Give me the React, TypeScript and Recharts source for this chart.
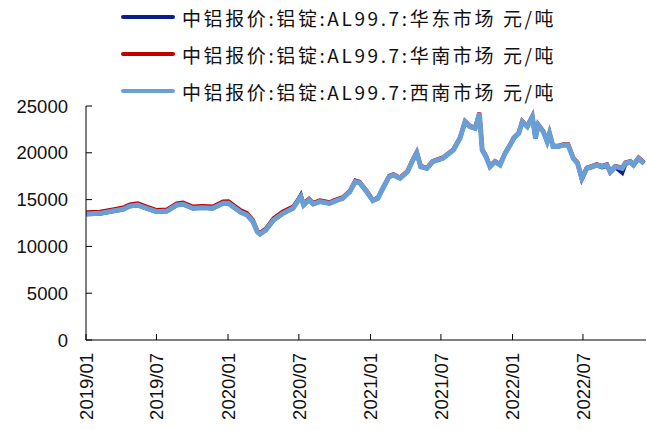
import { LineChart, Line, XAxis, YAxis } from "recharts";

const dates = [
  "2019/01/02", "2019/02/06", "2019/03/11", "2019/04/06", "2019/04/24", "2019/05/14", "2019/06/06", "2019/07/02",
  "2019/07/28", "2019/08/22", "2019/09/07", "2019/10/03", "2019/10/28", "2019/11/23", "2019/12/19",
  "2020/01/02", "2020/02/03", "2020/02/19", "2020/03/05", "2020/03/16", "2020/03/23", "2020/04/07", "2020/04/27",
  "2020/05/21", "2020/06/16", "2020/07/06", "2020/07/13", "2020/07/27", "2020/08/07", "2020/08/24", "2020/09/18",
  "2020/10/09", "2020/10/22", "2020/11/09", "2020/11/23", "2020/12/04", "2020/12/23",
  "2021/01/07", "2021/01/20", "2021/02/02", "2021/02/18", "2021/03/01", "2021/03/18", "2021/04/06", "2021/04/20",
  "2021/04/30", "2021/05/10", "2021/05/26", "2021/06/10", "2021/07/06", "2021/08/02", "2021/08/19", "2021/09/01",
  "2021/09/14", "2021/09/27", "2021/10/08", "2021/10/15", "2021/10/25", "2021/11/04", "2021/11/17", "2021/11/30",
  "2021/12/13", "2021/12/27",
  "2022/01/04", "2022/01/17", "2022/01/26", "2022/02/08", "2022/02/21", "2022/03/01", "2022/03/08", "2022/03/21",
  "2022/03/31", "2022/04/06", "2022/04/15", "2022/04/28", "2022/05/11", "2022/05/24", "2022/06/06", "2022/06/17",
  "2022/06/28", "2022/07/11", "2022/07/25", "2022/08/05", "2022/08/19", "2022/09/01", "2022/09/09", "2022/09/22",
  "2022/10/10", "2022/10/18", "2022/10/31", "2022/11/08", "2022/11/21", "2022/12/05",
];

// 华东市场
const eastPrices = [
  13440, 13500, 13760, 13940, 14290, 14400, 14040, 13690, 13760, 14400, 14480, 14040, 14120, 14050, 14580,
  14570, 13630, 13330, 12620, 11550, 11300, 11730, 12800, 13510, 14050, 15500, 14400, 14940, 14510, 14760, 14580,
  14940, 15120, 15830, 16900, 16780, 15780,
  14880, 15120, 16190, 17430, 17610, 17260, 17960, 19210, 19990, 18500, 18320, 19030, 19390, 20280, 21530, 23300,
  22770, 22590, 24200, 20280, 19560, 18500, 19030, 18680, 19920, 20880,
  21530, 22060, 23300, 22770, 23840, 21530, 22950, 22240, 21170, 22060, 20640, 20640, 20810, 20810, 19390, 18860,
  17150, 18300, 18480, 18650, 18450, 18600, 17880, 18450, 17850, 18800, 18980, 18650, 19350, 18850,
];

// 华南市场
const southPrices = [
  13650, 13700, 13950, 14150, 14480, 14600, 14250, 13880, 13950, 14600, 14680, 14250, 14320, 14250, 14800,
  14820, 13850, 13550, 12820, 11700, 11450, 11900, 13000, 13720, 14250, 15380, 14600, 15100, 14650, 14920, 14720,
  15080, 15250, 15950, 17050, 16900, 15900,
  14980, 15220, 16300, 17530, 17720, 17360, 18060, 19320, 20100, 18600, 18420, 19130, 19500, 20380, 21630, 23400,
  22870, 22700, 24300, 20380, 19660, 18600, 19130, 18790, 20020, 20980,
  21630, 22160, 23400, 22870, 23940, 21630, 23050, 22340, 21270, 22160, 20740, 20740, 20910, 20910, 19490, 18960,
  17360, 18420, 18600, 18780, 18600, 18780, 18060, 18600, 18420, 18960, 19130, 18780, 19490, 18960,
];

// 西南市场
const southwestPrices = [
  13460, 13530, 13780, 13960, 14310, 14420, 14070, 13710, 13780, 14420, 14500, 14070, 14140, 14070, 14600,
  14600, 13650, 13350, 12640, 11570, 11320, 11750, 12820, 13530, 14070, 15310, 14420, 14960, 14530, 14780, 14600,
  14960, 15140, 15850, 16920, 16800, 15800,
  14900, 15140, 16210, 17450, 17630, 17280, 17980, 19230, 20010, 18520, 18340, 19050, 19410, 20300, 21550, 23320,
  22790, 22610, 24220, 20300, 19580, 18520, 19050, 18700, 19940, 20900,
  21550, 22080, 23320, 22790, 23860, 21550, 22970, 22260, 21190, 22080, 20660, 20660, 20830, 20830, 19410, 18880,
  17280, 18340, 18520, 18700, 18520, 18700, 17980, 18520, 18340, 18880, 19050, 18700, 19410, 18880,
];

const xTickDates = ["2019/01/01", "2019/07/01", "2020/01/01", "2020/07/01", "2021/01/01", "2021/07/01", "2022/01/01", "2022/07/01"];
const yTicks = [0, 5000, 10000, 15000, 20000, 25000];
const axisEnd = "2022/12/10";

const seriesNames = [
  "中铝报价:铝锭:AL99.7:华东市场 元/吨",
  "中铝报价:铝锭:AL99.7:华南市场 元/吨",
  "中铝报价:铝锭:AL99.7:西南市场 元/吨",
];
const seriesColors = ["#0B1C8C", "#C00000", "#6A9FD6"];

const dayOf = (s: string) => {
  const [y, m, d] = s.split("/").map(Number);
  return (Date.UTC(y, m - 1, d) - Date.UTC(2019, 0, 1)) / 86400000;
};

const data = dates.map((d, i) => ({
  t: dayOf(d),
  east: eastPrices[i],
  south: southPrices[i],
  southwest: southwestPrices[i],
}));

const xTicks = xTickDates.map(dayOf);
const tickLabel = (v: number) => {
  const i = xTicks.indexOf(v);
  return i >= 0 ? xTickDates[i].slice(0, 7) : "";
};

const FONT = "'Liberation Sans', Arial, sans-serif";

function YTick(props: any) {
  const { x, y, payload } = props;
  return (
    <g>
      <line x1={x + 18} x2={x + 24} y1={y} y2={y} stroke="#000" strokeWidth={1} />
      <text x={x} y={y} dy="0.36em" textAnchor="end" fontSize={18.5} fontFamily={FONT} fill="#111">
        {payload.value}
      </text>
    </g>
  );
}

function XTick(props: any) {
  const { x, y, payload } = props;
  return (
    <g>
      <line x1={x} x2={x} y1={y - 13} y2={y - 19} stroke="#000" strokeWidth={1} />
      <text
        x={x}
        y={y}
        dy="0.36em"
        textAnchor="end"
        transform={`rotate(-90, ${x}, ${y})`}
        fontSize={18.5}
        fontFamily={FONT}
        fill="#111"
      >
        {tickLabel(payload.value)}
      </text>
    </g>
  );
}

export default function App() {
  return (
    <div style={{ position: "absolute", left: 0, top: 0, width: 647, height: 430, background: "#fff" }}>
      <div style={{ position: "absolute", left: 121, top: 0 }}>
        {seriesNames.map((name, i) => (
          <div
            key={name}
            style={{
              position: "absolute",
              top: 3 + i * 37,
              left: 0,
              display: "flex",
              alignItems: "center",
              whiteSpace: "nowrap",
              height: 28,
            }}
          >
            <svg width={54} height={6}>
              <line x1={2} x2={52} y1={3} y2={3} stroke={seriesColors[i]} strokeWidth={4} strokeLinecap="round" />
            </svg>
            <span
              style={{
                marginLeft: 7,
                fontSize: 19,
                letterSpacing: 2.6,
                fontFamily: "'Noto Sans CJK SC', sans-serif",
                color: "#111",
              }}
            >
              {name}
            </span>
          </div>
        ))}
      </div>
      <LineChart width={647} height={430} data={data} margin={{ top: 106, right: 1, left: 0, bottom: 0 }}>
        <XAxis
          dataKey="t"
          type="number"
          domain={[0, dayOf(axisEnd)]}
          ticks={xTicks}
          interval={0}
          height={90}
          tickSize={0}
          tickMargin={13}
          tick={<XTick />}
          axisLine={{ stroke: "#000", strokeWidth: 1 }}
        />
        <YAxis
          type="number"
          domain={[0, 25000]}
          ticks={yTicks}
          interval={0}
          width={86}
          tickSize={0}
          tickMargin={18}
          tick={<YTick />}
          axisLine={{ stroke: "#000", strokeWidth: 1 }}
        />
        <Line dataKey="east" stroke={seriesColors[0]} strokeWidth={4} dot={false} isAnimationActive={false} />
        <Line dataKey="south" stroke={seriesColors[1]} strokeWidth={4} dot={false} isAnimationActive={false} />
        <Line dataKey="southwest" stroke={seriesColors[2]} strokeWidth={5} dot={false} isAnimationActive={false} />
      </LineChart>
    </div>
  );
}
